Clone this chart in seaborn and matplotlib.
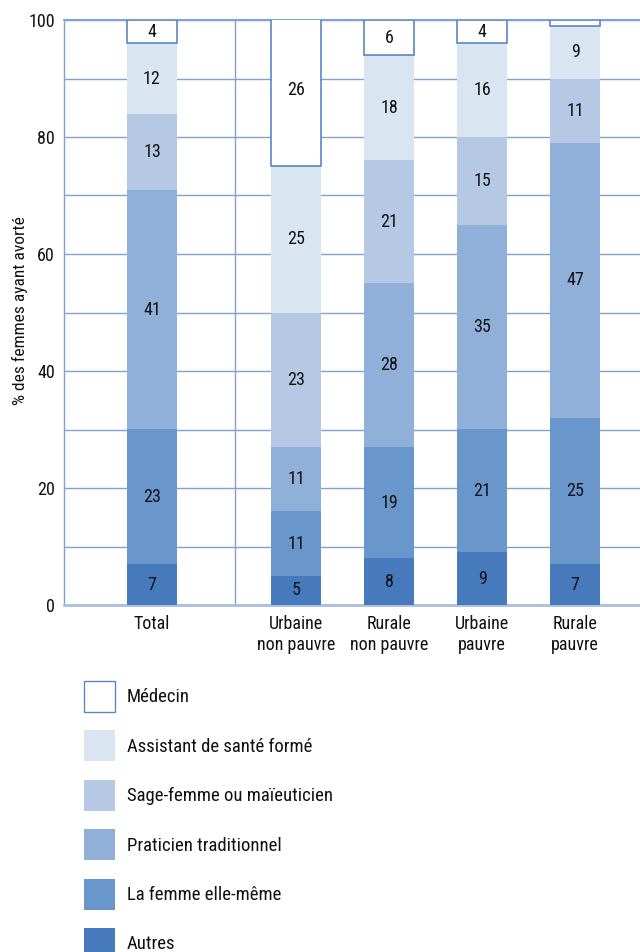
import matplotlib
matplotlib.use("Agg")
import matplotlib.pyplot as plt
from matplotlib import font_manager
import seaborn as sns
import pandas as pd
import numpy as np
from matplotlib.patches import Patch

groups = ["Total", "Urbaine\nnon pauvre", "Rurale\nnon pauvre", "Urbaine\npauvre", "Rurale\npauvre"]
autres = [7, 5, 8, 9, 7]
femme = [23, 11, 19, 21, 25]
praticien = [41, 11, 28, 35, 47]
sage_femme = [13, 23, 21, 15, 11]
assistant = [12, 25, 18, 16, 9]
medecin = [4, 26, 6, 4, 1]
series_names = ["Autres", "La femme elle-même", "Praticien traditionnel",
                "Sage-femme ou maïeuticien", "Assistant de santé formé", "Médecin"]
y_ticks = [0, 20, 40, 60, 80, 100]
y_label = "% des femmes ayant avorté"

sns.set_theme(style="white")

# pick a narrow font if one is available
entries = font_manager.fontManager.ttflist
names = {f.name for f in entries}
stretch = "normal"
if "Liberation Sans Narrow" in names:
    fam = "Liberation Sans Narrow"
elif "Roboto Condensed" in names:
    fam = "Roboto Condensed"
elif any(f.name == "DejaVu Sans" and str(f.stretch) in ("condensed", "semi-condensed") for f in entries):
    fam = "DejaVu Sans"
    stretch = "condensed"
else:
    fam = "Roboto"
plt.rcParams['font.family'] = [fam, 'DejaVu Sans']
plt.rcParams['font.stretch'] = stretch

fig = plt.figure(figsize=(6.4, 9.52), dpi=100)
ax = fig.add_axes([64/640, 1 - 605/952, 1 - 64/640, (605 - 20)/952])

positions = [0, 1.55, 2.55, 3.55, 4.55]
layers = [autres, femme, praticien, sage_femme, assistant, medecin]
colors = ["#4779bd", "#6a97cb", "#90b0d9", "#b5c9e4", "#d9e5f1", "#ffffff"]
edge_blue = "#5a86c4"
grid_col = "#7fa1d3"
txt_col = "#111111"

bottom = np.zeros(len(groups))
for name, vals, col in zip(series_names, layers, colors):
    df = pd.DataFrame({"x": positions, "y": vals})
    n_before = len(ax.patches)
    is_med = name == "Médecin"
    sns.barplot(data=df, x="x", y="y", native_scale=True, color=col, saturation=1,
                width=0.54, errorbar=None, ax=ax,
                edgecolor=edge_blue if is_med else col,
                linewidth=1.2 if is_med else 0, zorder=3)
    new = ax.patches[n_before:]
    for p, b, v in zip(new, bottom, vals):
        p.set_y(b)
        if v >= 2:
            ax.text(p.get_x() + p.get_width()/2, b + v/2, str(v), ha="center",
                    va="center", fontsize=13, color=txt_col, zorder=5)
    bottom = bottom + np.array(vals)

ax.set_xlim(-0.946, 5.247)
ax.set_ylim(0, 100)
ax.set_yticks(y_ticks)
ax.set_yticklabels([str(t) for t in y_ticks])
ax.set_yticks(list(range(10, 100, 20)), minor=True)
ax.set_xticks(positions)
ax.set_xticklabels(groups, linespacing=1.2)
ax.set_xlabel("")
ax.set_ylabel(y_label, fontsize=12.5, color=txt_col)
ax.yaxis.set_label_coords(-0.0625, 0.503)
ax.set_axisbelow(True)
ax.grid(axis="y", which="both", color=grid_col, lw=1)
ax.axvline(0.89, color=grid_col, lw=1, zorder=1)
ax.tick_params(axis="both", which="both", length=0, labelsize=13, colors=txt_col)
ax.tick_params(axis="y", pad=6.5)
ax.tick_params(axis="x", pad=7)
for s in ["top", "right"]:
    ax.spines[s].set_visible(False)
ax.spines["left"].set_color(grid_col)
ax.spines["left"].set_linewidth(1)
ax.spines["bottom"].set_color("#a9c0e1")
ax.spines["bottom"].set_linewidth(2)
ax.axhline(100, color=grid_col, lw=1.5, zorder=2, clip_on=False)

handles = []
for name, col in zip(series_names[::-1], colors[::-1]):
    if name == "Médecin":
        handles.append(Patch(facecolor="white", edgecolor=edge_blue, linewidth=1, label=name))
    else:
        handles.append(Patch(facecolor=col, edgecolor=col, linewidth=0, label=name))
leg = fig.legend(handles=handles, loc="upper left", bbox_to_anchor=(84/640, 1 - 681/952),
                 frameon=False, fontsize=13.5, handlelength=1.65, handleheight=2.17,
                 labelspacing=0.98, handletextpad=0.64, borderaxespad=0, borderpad=0)
for t in leg.get_texts():
    t.set_color(txt_col)

fig.savefig("out.png", dpi=100)
